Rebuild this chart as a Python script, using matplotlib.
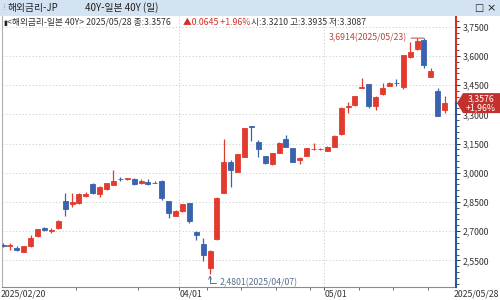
import matplotlib
matplotlib.use("Agg")
import matplotlib.pyplot as plt
from matplotlib.patches import Rectangle, Polygon
from matplotlib.ticker import FuncFormatter, MultipleLocator, FixedLocator

plt.rcParams['font.family'] = ['Noto Sans CJK KR', 'DejaVu Sans']

dates = ["2025/02/20", "2025/02/21", "2025/02/25", "2025/02/26", "2025/02/27", "2025/02/28",
         "2025/03/03", "2025/03/04", "2025/03/05", "2025/03/06", "2025/03/07", "2025/03/10",
         "2025/03/11", "2025/03/12", "2025/03/13", "2025/03/14", "2025/03/17", "2025/03/18",
         "2025/03/19", "2025/03/21", "2025/03/24", "2025/03/25", "2025/03/26", "2025/03/27",
         "2025/03/28", "2025/03/31", "2025/04/01", "2025/04/02", "2025/04/03", "2025/04/04",
         "2025/04/07", "2025/04/08", "2025/04/09", "2025/04/10", "2025/04/11", "2025/04/14",
         "2025/04/15", "2025/04/16", "2025/04/17", "2025/04/18", "2025/04/21", "2025/04/22",
         "2025/04/23", "2025/04/24", "2025/04/25", "2025/04/28", "2025/04/30", "2025/05/01",
         "2025/05/02", "2025/05/07", "2025/05/08", "2025/05/09", "2025/05/12", "2025/05/13",
         "2025/05/14", "2025/05/15", "2025/05/16", "2025/05/19", "2025/05/20", "2025/05/21",
         "2025/05/22", "2025/05/23", "2025/05/26", "2025/05/27", "2025/05/28"]

opens = [2.6313, 2.6262, 2.6134, 2.5944, 2.6237, 2.6750, 2.7161, 2.7007, 2.7161, 2.8548,
         2.8409, 2.8445, 2.8804, 2.9421, 2.8907, 2.9164, 2.9385, 2.9703, 2.9678, 2.9693,
         2.9457, 2.9523, 2.9472, 2.9575, 2.8548, 2.7793, 2.8034, 2.8445, 2.6971, 2.6339,
         2.5091, 2.6596, 2.8974, 3.0576, 3.0053, 3.0823, 3.2400, 3.1562, 3.0874, 3.0433,
         3.1028, 3.1747, 3.1285, 3.0653, 3.0874, 3.1203, 3.1218, 3.1131, 3.1337, 3.1989,
         3.3401, 3.3478, 3.4362, 3.4557, 3.3442, 3.4043, 3.4469, 3.4634, 3.4387, 3.5928,
         3.6339, 3.6817, 3.4932, 3.4197, 3.3210]
highs = [2.6391, 2.6391, 2.6237, 2.6262, 2.6801, 2.7135, 2.7212, 2.7146, 2.7572, 2.8974,
         2.8959, 2.8974, 2.9010, 2.9457, 2.9293, 2.9498, 3.0140, 2.9796, 2.9755, 2.9713,
         2.9662, 2.9662, 2.9590, 2.9626, 2.8573, 2.8085, 2.8419, 2.8471, 2.7007, 2.6647,
         2.6031, 2.8753, 3.1732, 3.0653, 3.0987, 3.2297, 3.2425, 3.1681, 3.0885, 3.1013,
         3.1593, 3.1937, 3.1295, 3.0823, 3.1270, 3.1527, 3.1270, 3.1398, 3.1937, 3.3375,
         3.3617, 3.3966, 3.4850, 3.4582, 3.3940, 3.4593, 3.4685, 3.4814, 3.6072, 3.6729,
         3.6904, 3.6914, 3.5394, 3.4336, 3.3935]
lows = [2.6211, 2.6057, 2.6005, 2.5903, 2.6211, 2.6724, 2.7007, 2.6920, 2.7135, 2.7793,
        2.8240, 2.8419, 2.8779, 2.8933, 2.8753, 2.9138, 2.9370, 2.9575, 2.9652, 2.9395,
        2.9406, 2.9395, 2.9447, 2.8599, 2.7690, 2.7752, 2.8008, 2.7433, 2.6545, 2.5466,
        2.4801, 2.6545, 2.8959, 2.9282, 3.0037, 3.0808, 3.1645, 3.0823, 3.0474, 3.0407,
        3.1013, 3.1321, 3.0551, 3.0448, 3.0859, 3.1193, 3.1193, 3.1115, 3.1321, 3.1963,
        3.3052, 3.3453, 3.4351, 3.3309, 3.3221, 3.4018, 3.4454, 3.4480, 3.4326, 3.5918,
        3.6303, 3.5363, 3.4916, 3.2900, 3.3087]
closes = [2.6262, 2.6298, 2.6031, 2.6221, 2.6647, 2.7110, 2.7058, 2.7074, 2.7521, 2.8137,
          2.8496, 2.8907, 2.8907, 2.8959, 2.9267, 2.9472, 2.9590, 2.9678, 2.9729, 2.9421,
          2.9560, 2.9421, 2.9447, 2.8686, 2.7931, 2.8034, 2.8378, 2.7520, 2.6786, 2.5774,
          2.5980, 2.8717, 3.0566, 3.0140, 3.0962, 3.2282, 3.2359, 3.1203, 3.0484, 3.0998,
          3.1511, 3.1337, 3.0566, 3.0741, 3.1254, 3.1229, 3.1244, 3.1347, 3.1912, 3.3340,
          3.3453, 3.3940, 3.4387, 3.3442, 3.3905, 3.4367, 3.4624, 3.4608, 3.6046, 3.6216,
          3.6765, 3.5533, 3.5240, 3.2931, 3.3576]

change = 0.0645
change_pct = 1.96
label_dates = ["2025/04/01", "2025/05/01"]
label_texts = ["04/01", "05/01"]
minor_dates = ["2025/03/10", "2025/03/24", "2025/04/07", "2025/04/14", "2025/04/21",
               "2025/04/28", "2025/05/12", "2025/05/19", "2025/05/26"]
title_left = "해외금리-JP"
title_right = "40Y-일본 40Y (일)"
series_name = "<해외금리-일본 40Y>"

RED = '#e23b2e'
BLUE = '#3a62ad'
AX_RED = '#d3302a'
AX_BLUE = '#2a56a3'
TXT = '#333333'

W, H = 500, 300
fig = plt.figure(figsize=(5, 3), dpi=100)
fig.patch.set_facecolor('white')

def fx(px):
    return px / W

def fy(py):
    return 1 - py / H

ax_left, ax_right, ax_top, ax_bot = 2, 456, 16, 287
ax = fig.add_axes([fx(ax_left), fy(ax_bot), fx(ax_right - ax_left), (ax_bot - ax_top) / H])
ax.set_facecolor('white')

n = len(dates)
xs = list(range(n))
for i in xs:
    o, h, l, c = opens[i], highs[i], lows[i], closes[i]
    col = RED if c >= o else BLUE
    ax.vlines(i, l, h, color=col, lw=0.9, zorder=3)
    ax.bar(i, abs(c - o), bottom=min(o, c), width=0.72, color=col,
           edgecolor=col, linewidth=0.6, zorder=4)

ax.set_xlim(-0.15, 65.65)
ax.set_ylim(2.4131, 3.805)

# y axis on right
ax.yaxis.tick_right()
ax.yaxis.set_major_locator(MultipleLocator(0.15))
ax.yaxis.set_minor_locator(MultipleLocator(0.03))
ax.yaxis.set_major_formatter(FuncFormatter(lambda v, p: f"{v:.4f}".replace('.', ',')))
ax.tick_params(axis='y', which='major', length=3, width=0.7, colors=TXT, labelsize=6.3, pad=1.5)
ax.tick_params(axis='y', which='minor', length=1.8, width=0.6, colors=TXT)

# x ticks
idx = {d: i for i, d in enumerate(dates)}
major_pos = [idx[d] - 0.45 for d in label_dates]
ax.xaxis.set_major_locator(FixedLocator(major_pos))
ax.set_xticklabels(label_texts)
for lab in ax.get_xticklabels():
    lab.set_horizontalalignment('left')
ax.xaxis.set_minor_locator(FixedLocator([idx[d] - 0.45 for d in minor_dates]))
ax.tick_params(axis='x', which='major', length=2, width=0.6, colors=TXT, labelsize=6.3, pad=0)
ax.tick_params(axis='x', which='minor', length=2, width=0.6, colors='#555555')

ax.grid(axis='both', which='major', linestyle=(0, (1.5, 2.5)), color='#c9c9c9', lw=0.6, zorder=0)

for s in ['top', 'right']:
    ax.spines[s].set_visible(False)
ax.spines['bottom'].set_color('#8a8a8a')
ax.spines['bottom'].set_linewidth(0.8)
ax.spines['left'].set_color('#b0b0b0')
ax.spines['left'].set_linewidth(0.8)

# coloured right axis line split at current price
last = closes[-1]
ylo, yhi = ax.get_ylim()
ax.plot([1, 1], [last, yhi], transform=ax.get_yaxis_transform(), color=AX_RED, lw=1.5,
        clip_on=False, zorder=6)
ax.plot([1, 1], [ylo, last], transform=ax.get_yaxis_transform(), color=AX_BLUE, lw=1.5,
        clip_on=False, zorder=6)

# max / min annotations
imax = max(range(n), key=lambda i: highs[i])
imin = min(range(n), key=lambda i: lows[i])
ax.annotate(f"{highs[imax]:.4f}".replace('.', ',') + f"({dates[imax]})",
            xy=(imax, highs[imax]), xytext=(-17, 0), textcoords='offset pixels',
            ha='right', va='center', fontsize=6.3, color='#b5463c',
            arrowprops=dict(arrowstyle='-', color='#b5463c', lw=0.7, shrinkA=1, shrinkB=0),
            zorder=7)
ax.annotate(f"{lows[imin]:.4f}".replace('.', ',') + f"({dates[imin]})",
            xy=(imin, lows[imin]), xytext=(10, -9), textcoords='offset pixels',
            ha='left', va='center', fontsize=6.3, color='#5b6f8f',
            arrowprops=dict(arrowstyle='->', color='#5b6f8f', lw=0.7, shrinkA=1, shrinkB=1,
                            mutation_scale=5,
                            connectionstyle='angle,angleA=0,angleB=90,rad=0'),
            zorder=7)

# bottom edge labels
fig.text(fx(1), fy(294), dates[0], ha='left', va='center', fontsize=6.3, color=TXT)
fig.text(fx(499), fy(294), dates[-1], ha='right', va='center', fontsize=6.3, color=TXT)

# current price box
fig.canvas.draw()
_, ypix = ax.transData.transform((0, last))
yc = ypix / H  # figure fraction
bh = 10 / H
poly = Polygon([(fx(457), yc), (fx(463), yc + bh), (fx(500), yc + bh), (fx(500), yc - bh),
                (fx(463), yc - bh)], closed=True, transform=fig.transFigure,
               facecolor='#c4302b', edgecolor='none', zorder=10)
fig.patches.append(poly)
fig.text(fx(481), yc + 4.5 / H, f"{last:.4f}".replace('.', ','), ha='center', va='center',
         fontsize=6.3, color='white', zorder=11)
fig.text(fx(481), yc - 4.8 / H, f"+{change_pct:.2f}%".replace('.', ','), ha='center',
         va='center', fontsize=6.3, color='white', zorder=11)

# title bar
fig.patches.append(Rectangle((0, fy(16)), 1, 16 / H, transform=fig.transFigure,
                             facecolor='#d4e3f2', edgecolor='none', zorder=1))
fig.text(fx(2), fy(8), "⁞", ha='left', va='center', fontsize=6, color='#888888',
         family=['DejaVu Sans'])
fig.text(fx(8), fy(8), title_left, ha='left', va='center', fontsize=7, color='#222222')
fig.text(fx(85), fy(8), title_right, ha='left', va='center', fontsize=7, color='#222222')
fig.text(fx(479), fy(8), "□", ha='center', va='center', fontsize=7, color='#222222',
         family=['DejaVu Sans'])
fig.text(fx(491), fy(8), "×", ha='center', va='center', fontsize=8, color='#222222',
         family=['DejaVu Sans'])

# info line
fig.text(fx(3), fy(22.5), "▮", ha='left', va='center', fontsize=5, color='#222222',
         family=['DejaVu Sans'])
fig.text(fx(7), fy(22.5), f"{series_name} {dates[-1]} 종:{last:.4f}", ha='left',
         va='center', fontsize=6.3, color=TXT)
fig.text(fx(183), fy(22.5), f"▲{change:.4f} +{change_pct:.2f}%", ha='left', va='center',
         fontsize=6.3, color='#d3302a')
fig.text(fx(251), fy(22.5), f"시:{opens[-1]:.4f} 고:{highs[-1]:.4f} 저:{lows[-1]:.4f}",
         ha='left', va='center', fontsize=6.3, color=TXT)

fig.savefig('out.png', dpi=100)
